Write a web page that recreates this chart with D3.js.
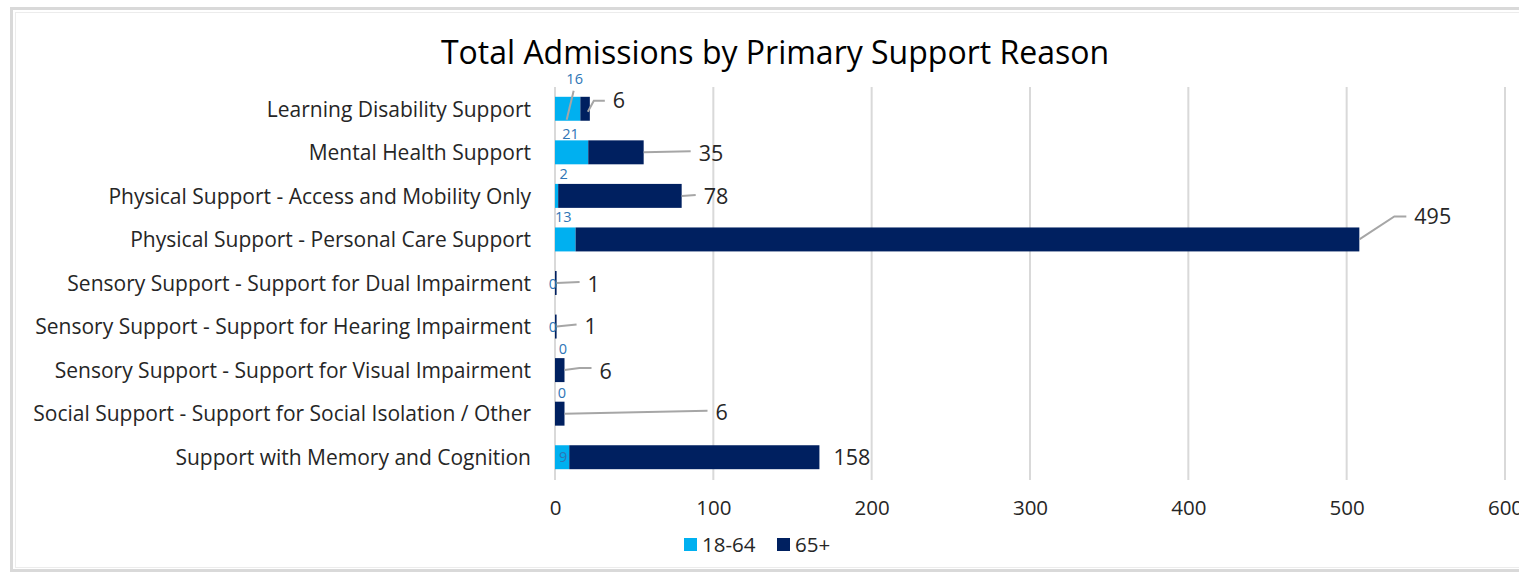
<!DOCTYPE html>
<html>
<head>
<meta charset="utf-8">
<script src="https://cdn.jsdelivr.net/npm/d3@7"></script>
<style>
  body { margin: 0; background: #fff; }
  svg text { font-family: "Open Sans", "Noto Sans", sans-serif; }
</style>
</head>
<body>
<div class="chart"></div>
<script>
// data
const categories = [
   "Learning Disability Support",
   "Mental Health Support",
   "Physical Support - Access and Mobility Only",
   "Physical Support - Personal Care Support",
   "Sensory Support - Support for Dual Impairment",
   "Sensory Support - Support for Hearing Impairment",
   "Sensory Support - Support for Visual Impairment",
   "Social Support - Support for Social Isolation / Other",
   "Support with Memory and Cognition"
];
const age1864 = [16, 21, 2, 13, 0, 0, 0, 0, 9];
const age65 = [6, 35, 78, 495, 1, 1, 6, 6, 158];
const seriesNames = ["18-64", "65+"];
const xTicks = [0, 100, 200, 300, 400, 500, 600];

// label placement (offsets in px, like the manually dragged labels)
// 18-64: [dx from segment middle, dy from row middle]
const youngLabelOffset = [
   [7, -30], [-1, -18], [7, -22], [-2, -23], [-2, 1], [-2, 0], [8, -21], [7, -21], [1, 0]
];
// 65+: [dx from bar end, dy from row middle, leader?]
const oldLabelOffset = [
   [23, -8, true], [55, 1, true], [22, 1, true], [55, -23, true], [31, 1, true],
   [28, 0, true], [35, 1, true], [151, -1, true], [14, 0, false]
];

const width = 1519;
const height = 576;
const colors = ["#00b0f0", "#002060"];
const textColor = "#262626";

const svg = d3.select(".chart")
   .append("svg")
   .attr("width", width)
   .attr("height", height);

// frame
svg.append("rect")
   .attr("x", 11.5).attr("y", 8.5)
   .attr("width", 1530).attr("height", 562)
   .attr("fill", "#fff")
   .attr("stroke", "#d9d9d9")
   .attr("stroke-width", 3);
svg.append("rect")
   .attr("x", 15.5).attr("y", 12.5)
   .attr("width", 1530).attr("height", 555)
   .attr("fill", "none")
   .attr("stroke", "#ececec")
   .attr("stroke-width", 1);

svg.append("text")
   .attr("x", 775)
   .attr("y", 64)
   .attr("text-anchor", "middle")
   .attr("font-size", 32)
   .attr("fill", "#000")
   .text("Total Admissions by Primary Support Reason");

const x = d3.scaleLinear().domain([0, 600]).range([555, 1505]);
const y = d3.scaleBand().domain(categories).range([87, 479]).paddingInner(0.45).paddingOuter(0.225);

// gridlines
svg.append("g")
   .selectAll("line")
   .data(xTicks)
   .enter()
   .append("line")
   .attr("x1", (d) => x(d)).attr("x2", (d) => x(d))
   .attr("y1", 87).attr("y2", 480)
   .attr("stroke", "#d9d9d9")
   .attr("stroke-width", 2);

// x axis
const xAxis = d3.axisBottom(x).tickValues(xTicks).tickSize(0).tickPadding(0);
const gx = svg.append("g")
   .attr("transform", "translate(0, 497)")
   .call(xAxis);
gx.select(".domain").remove();
gx.selectAll("text")
   .attr("font-size", 20.5)
   .attr("fill", textColor)
   .attr("dy", "0.9em");

// y axis labels
const yAxis = d3.axisLeft(y).tickSize(0).tickPadding(0);
const gy = svg.append("g")
   .attr("transform", "translate(531, 1)")
   .call(yAxis);
gy.select(".domain").remove();
gy.selectAll("text")
   .attr("font-size", 21)
   .attr("fill", textColor);

const rows = categories.map((c, i) => ({ c, i, a: age1864[i], b: age65[i] }));

// bars
svg.append("g")
   .selectAll("rect")
   .data(rows)
   .enter()
   .append("rect")
   .attr("x", (d) => x(0))
   .attr("y", (d) => y(d.c))
   .attr("width", (d) => x(d.a) - x(0))
   .attr("height", y.bandwidth())
   .attr("fill", colors[0]);

svg.append("g")
   .selectAll("rect")
   .data(rows)
   .enter()
   .append("rect")
   .attr("x", (d) => x(d.a))
   .attr("y", (d) => y(d.c))
   .attr("width", (d) => Math.max(x(d.a + d.b) - x(d.a), 1.6))
   .attr("height", y.bandwidth())
   .attr("fill", colors[1]);

const mid = (d) => y(d.c) + y.bandwidth() / 2;

// 18-64 leader for first row (label dragged above bar)
svg.append("line")
   .attr("x1", x(age1864[0] / 2) - 1).attr("y1", mid(rows[0]) + 11)
   .attr("x2", x(age1864[0] / 2) + 6).attr("y2", mid(rows[0]) - 18)
   .attr("stroke", "#a6a6a6").attr("stroke-width", 2);

// 18-64 labels
svg.append("g")
   .selectAll("text")
   .data(rows)
   .enter()
   .append("text")
   .attr("x", (d) => x(d.a / 2) + youngLabelOffset[d.i][0])
   .attr("y", (d) => mid(d) + youngLabelOffset[d.i][1])
   .attr("dy", "0.35em")
   .attr("text-anchor", "middle")
   .attr("font-size", 14.5)
   .attr("fill", "#2e75b6")
   .text((d) => d.a);

// 65+ leader lines
const leader = (d) => {
   const [dx, dy] = oldLabelOffset[d.i];
   const x0 = x(d.a + d.b);
   const y0 = mid(d);
   const x1 = x0 + dx - 8;
   const y1 = y0 + dy;
   if (d.i === 0) return `M${x0 - 2},${y0 + 3}L${x0 + 4},${y1}L${x1},${y1}`;
   if (d.i === 3) return `M${x0},${y0}L${x1 - 12},${y1}L${x1},${y1}`;
   if (d.i === 6) return `M${x0},${y0}L${x1 - 12},${y0 - 2}L${x1},${y0 - 2}`;
   return `M${x0},${y0}L${x1},${y1 - 2}`;
};
svg.append("g")
   .selectAll("path")
   .data(rows.filter((d) => oldLabelOffset[d.i][2]))
   .enter()
   .append("path")
   .attr("d", leader)
   .attr("fill", "none")
   .attr("stroke", "#a6a6a6")
   .attr("stroke-width", 2);

// 65+ labels
svg.append("g")
   .selectAll("text")
   .data(rows)
   .enter()
   .append("text")
   .attr("x", (d) => x(d.a + d.b) + oldLabelOffset[d.i][0])
   .attr("y", (d) => mid(d) + oldLabelOffset[d.i][1])
   .attr("dy", "0.35em")
   .attr("font-size", 21.5)
   .attr("fill", textColor)
   .text((d) => d.b);

// legend
const legend = svg.append("g")
   .selectAll("g")
   .data(seriesNames)
   .enter()
   .append("g")
   .attr("transform", (d, i) => `translate(${[684, 777][i]}, 538)`);
legend.append("rect")
   .attr("width", 13).attr("height", 13)
   .attr("fill", (d, i) => colors[i]);
legend.append("text")
   .attr("x", 18)
   .attr("y", 7)
   .attr("dy", "0.35em")
   .attr("font-size", 20.5)
   .attr("fill", textColor)
   .text((d) => d);
</script>
</body>
</html>
